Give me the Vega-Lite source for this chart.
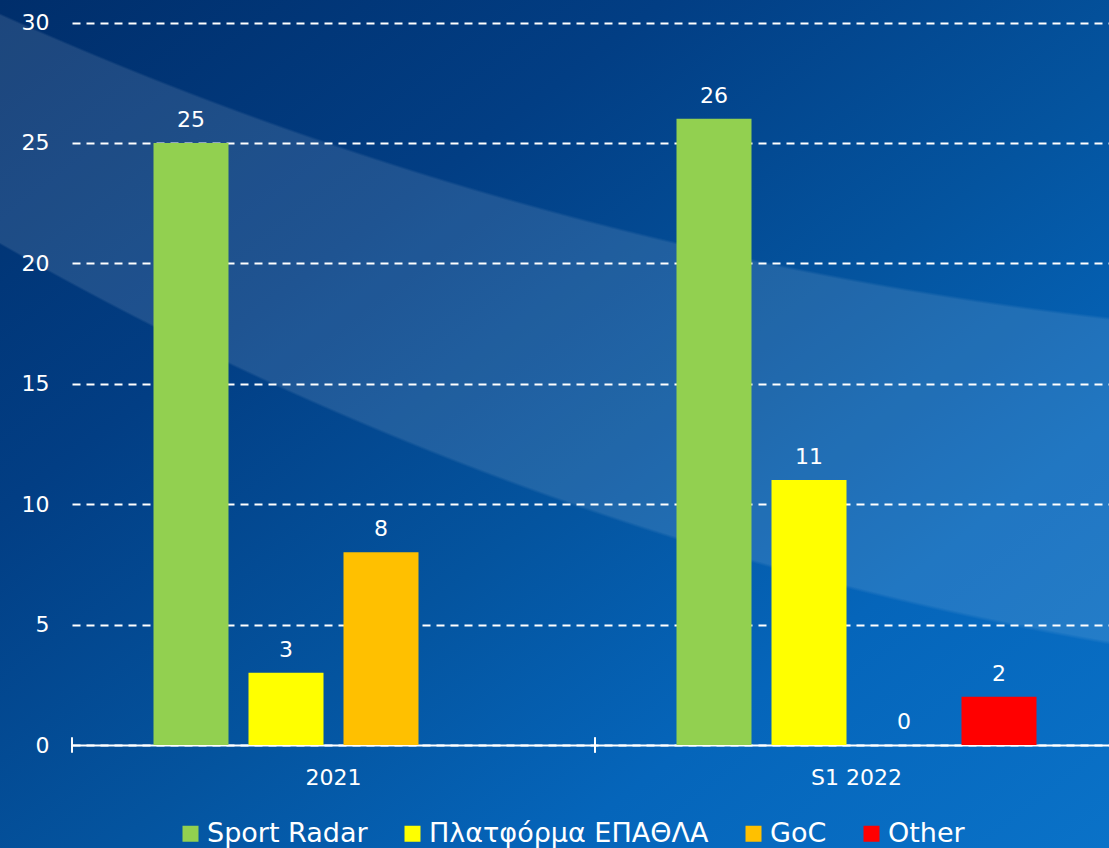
{
  "$schema": "https://vega.github.io/schema/vega-lite/v6.json",
  "width": 1109,
  "height": 848,
  "autosize": {"type": "none"},
  "padding": 0,
  "background": "#04509C",
  "view": {
    "stroke": null,
    "fill": {
      "gradient": "linear",
      "x1": 0, "y1": 0, "x2": 1, "y2": 1,
      "stops": [
        {"offset": 0, "color": "#002E6B"},
        {"offset": 0.3, "color": "#023E84"},
        {"offset": 0.55, "color": "#04549F"},
        {"offset": 0.75, "color": "#0565BA"},
        {"offset": 1, "color": "#0A72C8"}
      ]
    }
  },
  "config": {
    "font": "DejaVu Sans",
    "axis": {"labelFont": "DejaVu Sans"},
    "legend": {"labelFont": "DejaVu Sans"}
  },
  "datasets": {
    "bars": [
      {"year": "2021", "series": "Sport Radar", "value": 25},
      {"year": "2021", "series": "Πλατφόρμα ΕΠΑΘΛΑ", "value": 3},
      {"year": "2021", "series": "GoC", "value": 8},
      {"year": "S1 2022", "series": "Sport Radar", "value": 26},
      {"year": "S1 2022", "series": "Πλατφόρμα ΕΠΑΘΛΑ", "value": 11},
      {"year": "S1 2022", "series": "GoC", "value": 0},
      {"year": "S1 2022", "series": "Other", "value": 2}
    ]
  },
  "layer": [
    {
      "data": {"values": [{"layer": "band"}]},
      "mark": {
        "type": "rect",
        "stroke": null,
        "fill": {
          "gradient": "radial",
          "x1": 1.5248, "y1": -2.3224, "r1": 3.0667,
          "x2": 1.3823, "y2": -2.9536, "r2": 3.3787,
          "stops": [
            {"offset": 0, "color": "rgba(255,255,255,0)"},
            {"offset": 0.012, "color": "rgba(255,255,255,0.115)"},
            {"offset": 0.99, "color": "rgba(255,255,255,0.115)"},
            {"offset": 1, "color": "rgba(255,255,255,0)"}
          ]
        }
      },
      "encoding": {}
    },
    {
      "data": {"name": "bars"},
      "mark": {"type": "bar"},
      "encoding": {
        "x": {
          "field": "year", "type": "nominal", "sort": ["2021", "S1 2022"],
          "scale": {"range": [72, 1118], "paddingInner": 0, "paddingOuter": 0},
          "axis": {
            "title": null, "orient": "bottom", "offset": -103,
            "domainColor": "#FFFFFF", "domainWidth": 2,
            "ticks": false, "tickSize": 0,
            "labelColor": "#FFFFFF", "labelFontSize": 22, "labelPadding": 22, "labelAngle": 0,
            "grid": false
          }
        },
        "xOffset": {
          "field": "series", "type": "nominal",
          "scale": {"domain": ["Sport Radar", "Πλατφόρμα ΕΠΑΘΛΑ", "GoC", "Other"], "paddingInner": 0.2105, "paddingOuter": 0.858}
        },
        "y": {
          "field": "value", "type": "quantitative",
          "scale": {"domain": [0, 30], "range": [745, 22.5], "nice": false, "zero": true},
          "axis": {
            "title": null, "orient": "left", "offset": -72,
            "domain": false, "ticks": false, "tickSize": 0,
            "values": [0, 5, 10, 15, 20, 25, 30],
            "labelColor": "#FFFFFF", "labelFontSize": 22, "labelPadding": 23,
            "grid": true, "gridColor": "#FFFFFF", "gridDash": [8, 6], "gridWidth": 2
          }
        },
        "color": {
          "field": "series", "type": "nominal",
          "scale": {
            "domain": ["Sport Radar", "Πλατφόρμα ΕΠΑΘΛΑ", "GoC", "Other"],
            "range": ["#92D050", "#FFFF00", "#FFC000", "#FF0000"]
          },
          "legend": {
            "title": null, "orient": "none", "legendX": 177, "legendY": 820,
            "direction": "horizontal", "symbolType": "square", "symbolSize": 256,
            "symbolStrokeWidth": 0, "labelFontSize": 27, "labelColor": "#FFFFFF",
            "labelOffset": 3, "columnPadding": 31, "padding": 0, "labelLimit": 400
          }
        }
      }
    },
    {
      "data": {"name": "bars"},
      "mark": {"type": "text", "color": "#FFFFFF", "fontSize": 22, "baseline": "alphabetic", "dy": -16},
      "encoding": {
        "x": {"field": "year", "type": "nominal", "sort": ["2021", "S1 2022"]},
        "xOffset": {"field": "series", "type": "nominal"},
        "y": {"field": "value", "type": "quantitative"},
        "text": {"field": "value", "type": "quantitative"}
      }
    },
    {
      "data": {"name": "bars"},
      "mark": {"type": "tick", "orient": "vertical", "color": "#FFFFFF", "size": 15, "thickness": 2},
      "encoding": {
        "x": {"field": "year", "type": "nominal", "sort": ["2021", "S1 2022"], "bandPosition": 0},
        "y": {"datum": 0}
      }
    }
  ]
}
